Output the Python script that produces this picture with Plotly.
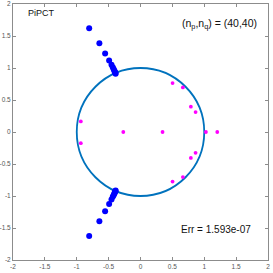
import plotly.graph_objects as go

# Poles (blue) – upper branch and lower branch
pole_x = [-0.805, -0.645, -0.555, -0.492, -0.455, -0.435, -0.422, -0.412, -0.404, -0.398, -0.393, -0.390,
          -0.805, -0.645, -0.555, -0.492, -0.455, -0.435, -0.422, -0.412, -0.404, -0.398, -0.393, -0.390]
pole_y = [1.620, 1.385, 1.228, 1.118, 1.050, 1.010, 0.985, 0.962, 0.945, 0.930, 0.920, 0.912,
          -1.625, -1.395, -1.238, -1.125, -1.055, -1.012, -0.988, -0.965, -0.948, -0.933, -0.922, -0.914]

# Zeros (magenta)
zero_x = [-0.936, -0.936, -0.270, 0.346, 1.026, 1.204, 0.503, 0.503, 0.665, 0.665, 0.790, 0.790, 0.864, 0.864]
zero_y = [0.166, -0.175, 0.0, 0.0, 0.0, 0.0, 0.765, -0.775, 0.697, -0.705, 0.395, -0.405, 0.312, -0.325]

tick_vals = [-2, -1.5, -1, -0.5, 0, 0.5, 1, 1.5, 2]
tick_text = ["-2", "-1.5", "-1", "-0.5", "0", "0.5", "1", "1.5", "2"]

method_label = "PiPCT"
order_label = "(n<sub>p</sub>,n<sub>q</sub>) = (40,40)"
err_label = "Err = 1.593e-07"

fig = go.Figure()
fig.add_shape(type="circle", xref="x", yref="y", x0=-1, y0=-1, x1=1, y1=1,
              line=dict(color="#0072BD", width=1.8), layer="below")
fig.add_trace(go.Scatter(x=pole_x, y=pole_y, mode="markers",
                         marker=dict(color="#0000FF", size=6, line=dict(width=0)),
                         showlegend=False, hoverinfo="skip"))
fig.add_trace(go.Scatter(x=zero_x, y=zero_y, mode="markers",
                         marker=dict(color="#FF00FF", size=3.8, line=dict(width=0)),
                         showlegend=False, hoverinfo="skip"))

axis_common = dict(
    range=[-2, 2], tickvals=tick_vals, ticktext=tick_text,
    showgrid=False, zeroline=False, showline=True, linecolor="#8c8c8c", linewidth=1,
    mirror="ticks", ticks="inside", ticklen=3, tickcolor="#8c8c8c", tickwidth=1,
    tickfont=dict(family="Liberation Sans, Arial", size=6.5, color="#555555"),
    automargin=False,
)
fig.update_xaxes(**axis_common, ticklabelstandoff=0)
fig.update_yaxes(**axis_common, ticklabelstandoff=0)

font = "Liberation Sans, Arial"
fig.add_annotation(x=0.05, y=0.965, xref="paper", yref="paper", text=method_label,
                   showarrow=False, xanchor="left", yanchor="middle",
                   font=dict(family=font, size=9, color="#111111"))
fig.add_annotation(x=0.965, y=0.922, xref="paper", yref="paper", text=order_label,
                   showarrow=False, xanchor="right", yanchor="middle",
                   font=dict(family=font, size=10.5, color="#111111"))
fig.add_annotation(x=0.94, y=0.12, xref="paper", yref="paper", text=err_label,
                   showarrow=False, xanchor="right", yanchor="middle",
                   font=dict(family=font, size=10, color="#111111"))

fig.update_layout(
    width=273, height=273,
    margin=dict(l=13, r=5, t=4, b=13),
    paper_bgcolor="white", plot_bgcolor="white",
    showlegend=False,
)

fig.write_html("out.html", config={"displayModeBar": False},
               post_script="document.body.style.margin='0';document.body.style.padding='0';")
